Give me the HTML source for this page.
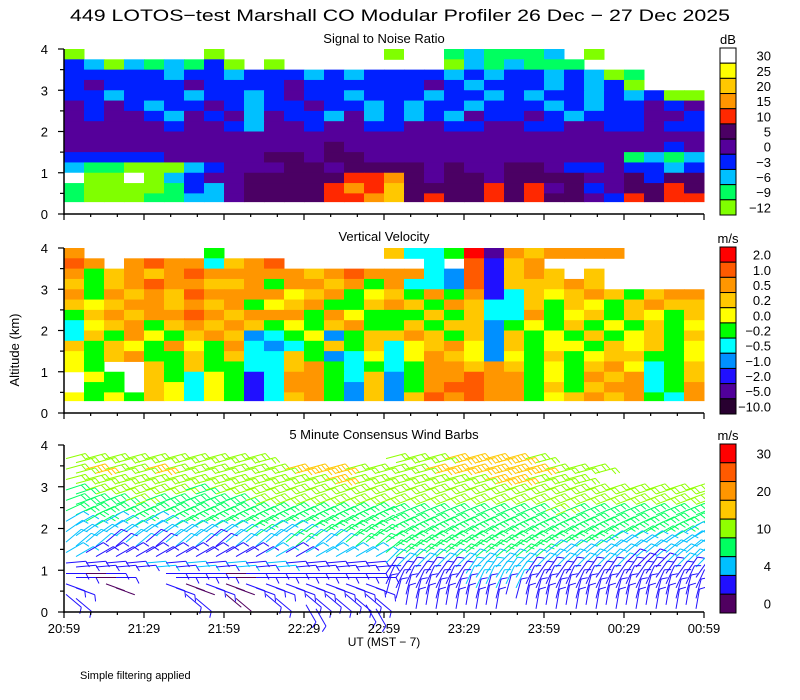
<!DOCTYPE html>
<html><head><meta charset="utf-8"><style>
html,body{margin:0;padding:0;background:#fff;}
svg{display:block;font-family:"Liberation Sans",sans-serif;}
</style></head><body>
<svg id="chart" width="800" height="700" viewBox="0 0 800 700" xmlns="http://www.w3.org/2000/svg">
<rect width="800" height="700" fill="#fff"/>
<text x="400" y="21" text-anchor="middle" font-size="17" textLength="660" lengthAdjust="spacingAndGlyphs">449 LOTOS−test Marshall CO Modular Profiler 26 Dec − 27 Dec 2025</text>
<text x="384" y="43" text-anchor="middle" font-size="13">Signal to Noise Ratio</text>
<text x="384" y="241" text-anchor="middle" font-size="13">Vertical Velocity</text>
<text x="384" y="439" text-anchor="middle" font-size="13">5 Minute Consensus Wind Barbs</text>
<text transform="translate(19,350) rotate(-90)" text-anchor="middle" font-size="13">Altitude (km)</text>
<text x="384" y="646" text-anchor="middle" font-size="12">UT  (MST − 7)</text>
<text x="80" y="679" font-size="11">Simple filtering applied</text>
<g id="layers"></g>
</svg>
<script>
// ---- data ----
var timeLabels = ["20:59","21:29","21:59","22:29","22:59","23:29","23:59","00:29","00:59"];
var altTicks = [0,1,2,3,4];
var snrLabels = ["30","25","20","15","10","5","0","−3","−6","−9","−12"];
var snrColors = ["#ffffff","#ffff00","#ffc800","#ff9600","#ff2800","#4b0064","#55009a","#0020ff","#00c0ff","#00ff60","#80ff00"];
var velLabels = ["2.0","1.0","0.5","0.2","0.0","−0.2","−0.5","−1.0","−2.0","−5.0","−10.0"];
var velColors = ["#ff0000","#ff5a00","#ff9600","#ffc800","#ffff00","#00ff00","#00ffff","#0090ff","#2010ff","#50009a","#280030"];
var windLabels = ["30","","20","","10","","4","","0"];
var windColors = ["#ff0000","#ff5a00","#ff9600","#ffc800","#90ff00","#00ff60","#00c0ff","#2010ff","#500060"];
var snrGrid = [
"a......a........aWWbcbbbc.a.....",
"dcacbcbda.a........acbcbbb......",
"dddddcddcdddcdcddddcdcddcdcab...",
"deddddeddddeddddddedcdddcdcda...",
"ddcdddcddcdeddcdddcddcdcddcdcdaa",
"ededcddedcddeddcdcddcdddcdcddede",
"edeedcedeceddcecdcdceddedcdddeed",
"eeeeedeedceedeeddeeddeeddeeddedd",
"eeeeeeeeeeeeeeeeeeeeeeeeeeeeeeee",
"eeeeeeeeeeeeefeeeeeeeeeeeeeeeede",
"dddddeeeeeffeffeeeeeeeeeeeeebcbc",
"cbbaaacdeeeffeffffefeeffeddeddcd",
"WaaWacdeefffffgghfeffeffffeefdff",
"baaaabdceffffghgiffffgfgefdeffgf",
"baaabbcceffffgghifgffgfgffedgfgg"];
var velGrid = [
"C......F........DGGFAJCDCCCC....",
"BC.CBCCGDCB.......G.BIDC........",
"CFDCDCBCCCCCDCBCCCGHBIDCD.D.....",
"DFDCBCCDDCFCCDCFCGGHBIDDDCD.....",
"CFCDCDBCCCCEDCFEDFCFCIGDEDCDFDCC",
"DEDCCDCDCFEDCFFDCDFCDGGDFDEFDCDD",
"FDCDCCBCDCCCFCEFFFDFDGGCFEDFDEFD",
"GEDCFDCDCDFEFDCFFDFDDHFEFDFEFDFE",
"GDFCEFDCDHGFEHFDDCDFDHDFEFDFEDFD",
"DFDEFCEFCGHGFDFDGEDCEHDFEEFDEDFE",
"EFDCFFDFDGGDFHGEGECDEHEFDFEDDFFE",
"EF..DFDFFGGDCFGFGFCCDCDFEFDCEGFD",
".EF.DFGEFIGCCFGDHFCCBCCFEFCDCGFD",
".FF.DEGEFIGCCFHDHFCBBCCFDFDCCGFC",
"EFEFDEGEFIGDCFHDHDBCBCCFEDCDCFGC"];
var windGrid = [
"................................",
"4444444444......44455554........",
"454454444445554444555555444.....",
"44444444444445444444455444......",
"34444434444444444444444444444444",
"33343333344444444444444444444444",
"33333333333333333333333343333333",
"23232333333333333333333333333333",
"22222222232233333333333333333332",
"22121221222322333333333333322222",
"21111111112122223333333322222222",
"11112121212111112222222222221122",
"101..1110111111111112221111111111",
"1.0..10101111111111122211111111111",
"1.....1.0.1.1111111111111111111111",
"............1..1.11111.111111111"];
var dirLeft = [15,15,15,15,18,20,25,30,35,40,30,5,0,-20,-40,-60];
var dirRight = [15,15,15,15,18,20,22,25,30,35,40,45,55,65,75,80];

// ---- scales ----
var X0=64, X1=704, NCOL=32;
function xCol(c){return X0+(X1-X0)*c/NCOL;}
function xTime(i){return X0+(X1-X0)*i/(timeLabels.length-1);}
var panels=[{y0:214,y4:49},{y0:413,y4:248},{y0:612,y4:445}];
function yAlt(p,a){var P=panels[p];return P.y0+(P.y4-P.y0)*a/4;}

var NS="http://www.w3.org/2000/svg";
var root=document.getElementById("layers");
function el(tag,attrs,parent){var e=document.createElementNS(NS,tag);for(var k in attrs)e.setAttribute(k,attrs[k]);(parent||root).appendChild(e);return e;}

var snrMap={W:0,i:2,h:3,g:4,f:5,e:6,d:7,c:8,b:9,a:10};
var velMap={A:0,B:1,C:2,D:3,E:4,F:5,G:6,H:7,I:8,J:9,K:10};

function drawGrid(p,grid,map,colors,name){
  var g=el("g",{});
  
  
  for(var r=0;r<grid.length;r++){
    var top=4-0.25*r, bot=Math.max(0.3,top-0.25);
    for(var c=0;c<NCOL;c++){
      var ch=grid[r][c]; if(!ch||ch==='.')continue;
      var ci=map[ch]; if(ci===undefined)continue;
      var cell=el("rect",{x:xCol(c),y:yAlt(p,top),width:xCol(c+1)-xCol(c)+0.5,height:yAlt(p,bot)-yAlt(p,top)+0.5,fill:colors[ci]},g);
      
      
    }
  }
}
drawGrid(0,snrGrid,snrMap,snrColors,"snr-heatmap");
drawGrid(1,velGrid,velMap,velColors,"velocity-heatmap");

// wind barbs
var wg=el("g",{"stroke-width":"1","fill":"none"});


var feathersByClass=[0,1,1,2,2,3,4];
var classColor=[8,7,6,5,4,3,2];
for(var r=0;r<windGrid.length;r++){
  var altC=4-0.25*r-0.125;
  for(var c=0;c<NCOL;c++){
    var ch=windGrid[r][c]; if(!ch||ch==='.')continue;
    var k=parseInt(ch,10); if(isNaN(k))continue;
    var ang=(c<16?dirLeft[r]:dirRight[r])*Math.PI/180;
    var col=windColors[classColor[k]];
    for(var s=0;s<2;s++){
      var bx=xCol(c)+2+s*10, by=yAlt(2,altC)+(s?2:-2);
      var L=20, dx=Math.cos(ang), dy=-Math.sin(ang);
      var tx=bx+L*dx, ty=by+L*dy;
      var b=el("g",{stroke:col},wg);
      
      
      el("line",{x1:bx,y1:by,x2:tx,y2:ty},b);
      var nf=feathersByClass[k];
      for(var f=0;f<nf;f++){
        var fx=tx-dx*f*4, fy=ty-dy*f*4;
        var px=-dy, py=dx;
        el("line",{x1:fx,y1:fy,x2:fx+6*px+3*dx,y2:fy+6*py+3*dy},b);
      }
    }
  }
}
el("rect",{x:705,y:440,width:15,height:180,fill:"#fff"});

// axes
var ag=el("g",{stroke:"#000","stroke-width":"1.5",fill:"none"});


for(var p=0;p<3;p++){
  var yb=yAlt(p,0), yt=yAlt(p,4);
  var yax=el("line",{x1:X0,y1:yt,x2:X0,y2:yb+1},ag);
  
  
  var xax=el("line",{x1:X0,y1:yb,x2:X1,y2:yb},ag);
  
  
  for(var a=0;a<=4;a+=0.5){
    var yy=yAlt(p,a);
    el("line",{x1:X0-(a%1===0?6:4),y1:yy,x2:X0,y2:yy,"stroke-width":"1.2"},ag);
  }
  altTicks.forEach(function(v){
    var t=el("text",{x:48,y:yAlt(p,v)+5,"text-anchor":"end","font-size":"13",fill:"#000",stroke:"none"});
    t.textContent=v;
    
    
  });
  var nMinor=(timeLabels.length-1)*3;
  for(var i=0;i<=nMinor;i++){
    var xx=X0+(X1-X0)*i/nMinor;
    el("line",{x1:xx,y1:yb,x2:xx,y2:yb+(i%3===0?6:3),"stroke-width":"1.2"},ag);
  }
}
timeLabels.forEach(function(lab,i){
  var t=el("text",{x:xTime(i),y:633,"text-anchor":"middle","font-size":"13"});
  t.textContent=lab;
  
  
});

// colorbars
function colorbar(p,colors,labels,unit,name){
  var g=el("g",{});
  
  
  var yt=yAlt(p,4)-1, yb=yAlt(p,0)+1, n=colors.length, h=(yb-yt)/n;
  for(var i=0;i<n;i++){
    var r=el("rect",{x:720,y:yt+i*h,width:16,height:h,fill:colors[i],stroke:"#000","stroke-width":"1"},g);
    
    
    if(labels[i]){
      var t=el("text",{x:771,y:yt+i*h+h/2+5,"text-anchor":"end","font-size":"13"},g);
      t.textContent=labels[i];
      
      
    }
  }
  var u=el("text",{x:728,y:yt-4,"text-anchor":"middle","font-size":"13"},g);
  u.textContent=unit;
  
  
}
colorbar(0,snrColors,snrLabels,"dB","snr-colorbar");
colorbar(1,velColors,velLabels,"m/s","velocity-colorbar");
colorbar(2,windColors,windLabels,"m/s","wind-colorbar");
</script>
</body></html>
